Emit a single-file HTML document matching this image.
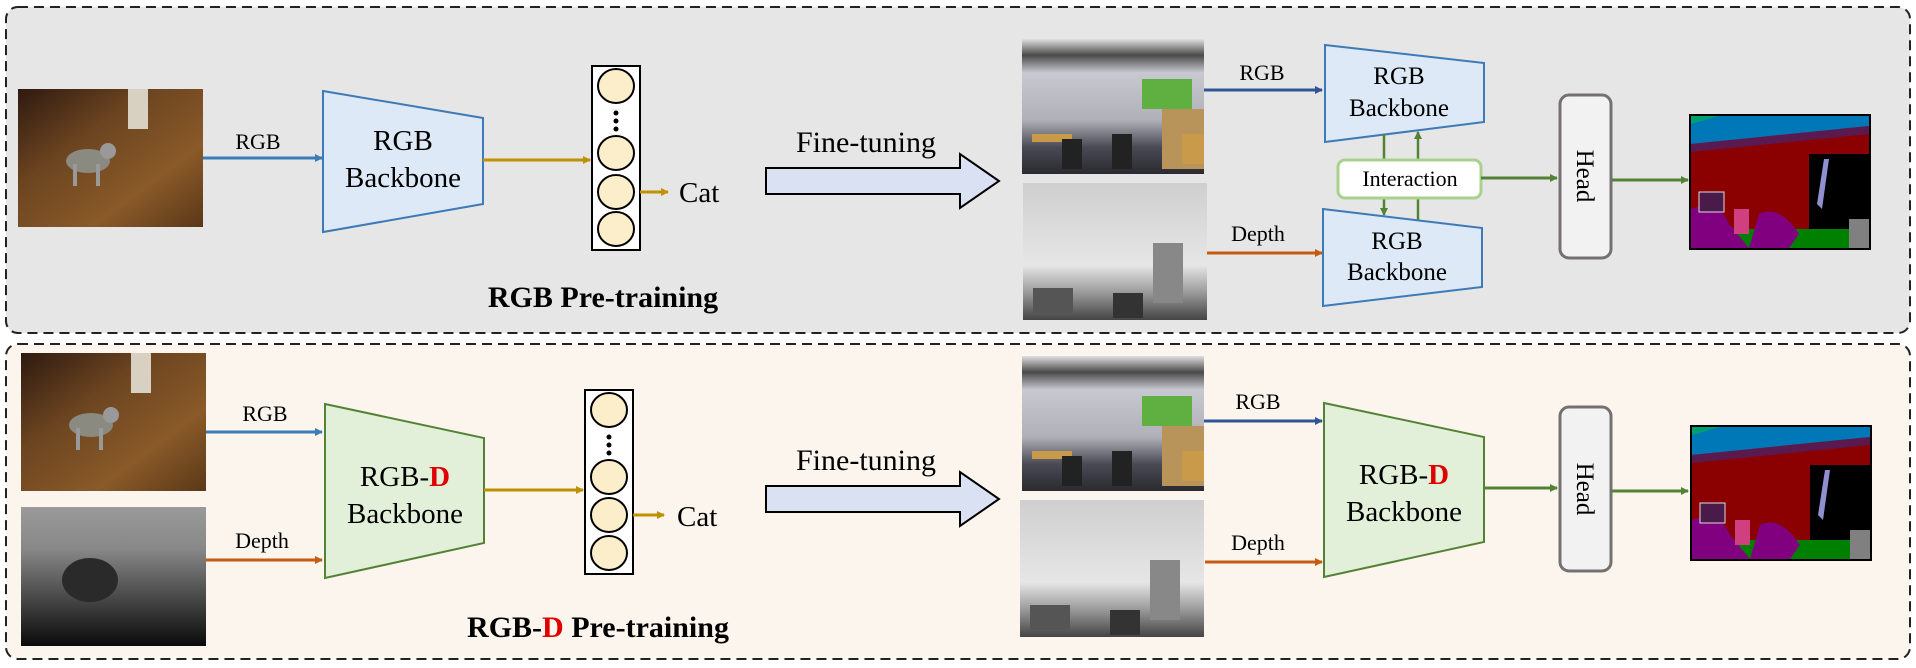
<!DOCTYPE html>
<html><head><meta charset="utf-8"><style>
html,body{margin:0;padding:0;background:#fff}
svg{display:block}
text{font-family:"Liberation Serif",serif;fill:#000}
</style></head><body>
<svg width="1916" height="668" viewBox="0 0 1916 668" xmlns="http://www.w3.org/2000/svg">
<defs>
<marker id="ab" markerWidth="8" markerHeight="8" refX="7" refY="4" orient="auto" markerUnits="userSpaceOnUse"><path d="M0,0 L8,4 L0,8 Z" fill="#3d7ab8"/></marker>
<marker id="adb" markerWidth="8" markerHeight="8" refX="7" refY="4" orient="auto" markerUnits="userSpaceOnUse"><path d="M0,0 L8,4 L0,8 Z" fill="#2f5597"/></marker>
<marker id="ao" markerWidth="8" markerHeight="8" refX="7" refY="4" orient="auto" markerUnits="userSpaceOnUse"><path d="M0,0 L8,4 L0,8 Z" fill="#c55a11"/></marker>
<marker id="ay" markerWidth="8" markerHeight="8" refX="7" refY="4" orient="auto" markerUnits="userSpaceOnUse"><path d="M0,0 L8,4 L0,8 Z" fill="#bf9000"/></marker>
<marker id="ag" markerWidth="8" markerHeight="8" refX="7" refY="4" orient="auto" markerUnits="userSpaceOnUse"><path d="M0,0 L8,4 L0,8 Z" fill="#548235"/></marker>
<linearGradient id="wood" x1="0" y1="0" x2="1" y2="1"><stop offset="0" stop-color="#2e1a10"/><stop offset="0.35" stop-color="#6b4420"/><stop offset="0.7" stop-color="#8a5a28"/><stop offset="1" stop-color="#5a3818"/></linearGradient>
<linearGradient id="dcat" x1="0" y1="0" x2="0" y2="1"><stop offset="0" stop-color="#9a9a9a"/><stop offset="0.3" stop-color="#888"/><stop offset="1" stop-color="#0a0a0a"/></linearGradient>
<linearGradient id="room" x1="0" y1="0" x2="0" y2="1"><stop offset="0" stop-color="#e0e0e0"/><stop offset="0.12" stop-color="#4a4a4a"/><stop offset="0.25" stop-color="#c8c8d0"/><stop offset="0.6" stop-color="#b0b0b8"/><stop offset="0.8" stop-color="#4a4a54"/><stop offset="1" stop-color="#2a2a30"/></linearGradient>
<linearGradient id="depth" x1="0" y1="0" x2="0" y2="1"><stop offset="0" stop-color="#cfcfcf"/><stop offset="0.6" stop-color="#e6e6e6"/><stop offset="0.8" stop-color="#9a9a9a"/><stop offset="1" stop-color="#444"/></linearGradient>
<g id="cat">
 <rect width="185" height="138" fill="url(#wood)"/>
 <rect x="110" y="0" width="20" height="40" fill="#d8d0c0"/>
 <ellipse cx="70" cy="72" rx="22" ry="12" fill="#8a8a80"/>
 <rect x="55" y="75" width="4" height="22" fill="#999"/><rect x="78" y="75" width="4" height="22" fill="#999"/>
 <circle cx="90" cy="62" r="8" fill="#999"/>
</g>
<g id="rgbroom">
 <rect width="182" height="135" fill="url(#room)"/>
 <rect x="120" y="40" width="50" height="30" fill="#5fb040"/>
 <rect x="140" y="70" width="42" height="60" fill="#b8945a"/>
 <rect x="10" y="95" width="40" height="8" fill="#c89a4a"/>
 <rect x="160" y="95" width="22" height="30" fill="#c89a4a"/>
 <rect x="40" y="100" width="20" height="30" fill="#222"/><rect x="90" y="95" width="20" height="35" fill="#222"/>
</g>
<g id="deproom">
 <rect width="184" height="137" fill="url(#depth)"/>
 <rect x="130" y="60" width="30" height="60" fill="#888"/>
 <rect x="10" y="105" width="40" height="25" fill="#555"/>
 <rect x="90" y="110" width="30" height="25" fill="#333"/>
</g>
<g id="seg">
 <rect width="182" height="136" fill="#000"/>
 <rect x="2" y="2" width="178" height="132" fill="#8b0000"/>
 <polygon points="2,2 180,2 180,12 2,30" fill="#0078b8"/>
 <polygon points="2,2 30,2 2,10" fill="#00a070"/>
 <polygon points="2,30 180,12 180,20 2,38" fill="#5a1a50"/>
 <rect x="120" y="40" width="60" height="75" fill="#000"/>
 <polygon points="128,90 135,45 140,45 133,95" fill="#9090d0"/>
 <rect x="2" y="115" width="178" height="19" fill="#008000"/>
 <path d="M2,95 Q30,85 40,110 L60,134 L2,134Z" fill="#800080"/>
 <path d="M70,100 Q90,90 110,120 L100,134 L60,134Z" fill="#800080"/>
 <rect x="45" y="95" width="15" height="25" fill="#d04080"/>
 <rect x="160" y="105" width="20" height="29" fill="#808080"/>
 <rect x="10" y="78" width="25" height="20" fill="#4a1a4a" stroke="#ddd"/>
</g>
</defs>

<rect x="6" y="7" width="1904" height="326" rx="12" fill="#e6e6e6" stroke="#222" stroke-width="2" stroke-dasharray="10,6"/>
<rect x="6" y="344" width="1904" height="315" rx="12" fill="#fcf5ee" stroke="#222" stroke-width="2" stroke-dasharray="10,6"/>

<!-- TOP -->
<use href="#cat" x="18" y="89"/>
<text x="258" y="149" font-size="22" text-anchor="middle">RGB</text>
<line x1="203" y1="158" x2="322" y2="158" stroke="#3d7ab8" stroke-width="3" marker-end="url(#ab)"/>
<polygon points="323,91 483,118 483,204 323,232" fill="#dde9f6" stroke="#3d7ab8" stroke-width="2"/>
<text x="403" y="150" font-size="29" text-anchor="middle">RGB</text>
<text x="403" y="187" font-size="29" text-anchor="middle">Backbone</text>
<line x1="483" y1="160" x2="590" y2="160" stroke="#bf9000" stroke-width="3" marker-end="url(#ay)"/>
<rect x="592" y="66" width="48" height="184" fill="#fff" stroke="#000" stroke-width="2"/>
<g fill="#fdeecb" stroke="#000" stroke-width="2">
<ellipse cx="616" cy="86" rx="18" ry="17"/><ellipse cx="616" cy="153" rx="18" ry="17"/><ellipse cx="616" cy="192" rx="18" ry="17"/><ellipse cx="616" cy="229" rx="18" ry="17"/></g>
<g fill="#000"><circle cx="616" cy="113" r="2.5"/><circle cx="616" cy="121" r="2.5"/><circle cx="616" cy="129" r="2.5"/></g>
<line x1="640" y1="192" x2="668" y2="192" stroke="#bf9000" stroke-width="3" marker-end="url(#ay)"/>
<text x="679" y="202" font-size="29">Cat</text>
<text x="603" y="307" font-size="30" font-weight="bold" text-anchor="middle">RGB Pre-training</text>

<text x="866" y="152" font-size="30" text-anchor="middle">Fine-tuning</text>
<polygon points="766,168 960,168 960,154 999,181 960,208 960,194 766,194" fill="#dae1f3" stroke="#000" stroke-width="2"/>

<use href="#rgbroom" x="1022" y="39"/>
<use href="#deproom" x="1023" y="183"/>
<text x="1262" y="80" font-size="22" text-anchor="middle">RGB</text>
<line x1="1204" y1="90" x2="1322" y2="90" stroke="#2f5597" stroke-width="3" marker-end="url(#adb)"/>
<polygon points="1325,45 1484,63 1484,122 1325,142" fill="#dde9f6" stroke="#3d7ab8" stroke-width="2"/>
<text x="1399" y="84" font-size="25" text-anchor="middle">RGB</text>
<text x="1399" y="116" font-size="25" text-anchor="middle">Backbone</text>
<text x="1258" y="241" font-size="22" text-anchor="middle">Depth</text>
<line x1="1207" y1="253" x2="1322" y2="253" stroke="#c55a11" stroke-width="3" marker-end="url(#ao)"/>
<polygon points="1323,209 1482,228 1482,287 1323,306" fill="#dde9f6" stroke="#3d7ab8" stroke-width="2"/>
<text x="1397" y="249" font-size="25" text-anchor="middle">RGB</text>
<text x="1397" y="280" font-size="25" text-anchor="middle">Backbone</text>
<line x1="1384" y1="134" x2="1384" y2="215" stroke="#548235" stroke-width="2.5" marker-end="url(#ag)"/>
<line x1="1418" y1="220" x2="1418" y2="132" stroke="#548235" stroke-width="2.5" marker-end="url(#ag)"/>
<rect x="1338" y="160" width="143" height="38" rx="7" fill="#fff" stroke="#a9d18e" stroke-width="3"/>
<text x="1410" y="186" font-size="22" text-anchor="middle">Interaction</text>
<line x1="1481" y1="178" x2="1557" y2="178" stroke="#548235" stroke-width="3" marker-end="url(#ag)"/>
<rect x="1560" y="95" width="51" height="163" rx="9" fill="#f2f2f2" stroke="#767171" stroke-width="3"/>
<text transform="translate(1577,176) rotate(90)" font-size="25" text-anchor="middle">Head</text>
<line x1="1612" y1="180" x2="1688" y2="180" stroke="#548235" stroke-width="3" marker-end="url(#ag)"/>
<use href="#seg" x="1689" y="114"/>

<!-- BOTTOM -->
<use href="#cat" x="21" y="353"/>
<rect x="21" y="507" width="185" height="139" fill="url(#dcat)"/>
<ellipse cx="90" cy="580" rx="28" ry="22" fill="#2a2a2a"/>
<text x="265" y="421" font-size="22" text-anchor="middle">RGB</text>
<line x1="206" y1="432" x2="322" y2="432" stroke="#3d7ab8" stroke-width="3" marker-end="url(#ab)"/>
<text x="262" y="548" font-size="22" text-anchor="middle">Depth</text>
<line x1="206" y1="560" x2="322" y2="560" stroke="#c55a11" stroke-width="3" marker-end="url(#ao)"/>
<polygon points="325,404 484,438 484,543 325,578" fill="#e2efd9" stroke="#548235" stroke-width="2"/>
<text x="405" y="486" font-size="29" text-anchor="middle">RGB-<tspan fill="#e00000" font-weight="bold">D</tspan></text>
<text x="405" y="523" font-size="29" text-anchor="middle">Backbone</text>
<line x1="484" y1="490" x2="583" y2="490" stroke="#bf9000" stroke-width="3" marker-end="url(#ay)"/>
<rect x="585" y="390" width="48" height="184" fill="#fff" stroke="#000" stroke-width="2"/>
<g fill="#fdeecb" stroke="#000" stroke-width="2">
<ellipse cx="609" cy="410" rx="18" ry="17"/><ellipse cx="609" cy="477" rx="18" ry="17"/><ellipse cx="609" cy="515" rx="18" ry="17"/><ellipse cx="609" cy="553" rx="18" ry="17"/></g>
<g fill="#000"><circle cx="609" cy="437" r="2.5"/><circle cx="609" cy="445" r="2.5"/><circle cx="609" cy="453" r="2.5"/></g>
<line x1="633" y1="515" x2="664" y2="515" stroke="#bf9000" stroke-width="3" marker-end="url(#ay)"/>
<text x="677" y="526" font-size="29">Cat</text>
<text x="598" y="637" font-size="30" font-weight="bold" text-anchor="middle">RGB-<tspan fill="#e00000">D</tspan> Pre-training</text>

<text x="866" y="470" font-size="30" text-anchor="middle">Fine-tuning</text>
<polygon points="766,486 960,486 960,472 999,499 960,526 960,512 766,512" fill="#dae1f3" stroke="#000" stroke-width="2"/>

<use href="#rgbroom" x="1022" y="356"/>
<use href="#deproom" x="1020" y="500"/>
<text x="1258" y="409" font-size="22" text-anchor="middle">RGB</text>
<line x1="1204" y1="421" x2="1322" y2="421" stroke="#2f5597" stroke-width="3" marker-end="url(#adb)"/>
<text x="1258" y="550" font-size="22" text-anchor="middle">Depth</text>
<line x1="1205" y1="562" x2="1322" y2="562" stroke="#c55a11" stroke-width="3" marker-end="url(#ao)"/>
<polygon points="1324,403 1484,437 1484,542 1324,577" fill="#e2efd9" stroke="#548235" stroke-width="2"/>
<text x="1404" y="484" font-size="29" text-anchor="middle">RGB-<tspan fill="#e00000" font-weight="bold">D</tspan></text>
<text x="1404" y="521" font-size="29" text-anchor="middle">Backbone</text>
<line x1="1484" y1="488" x2="1557" y2="488" stroke="#548235" stroke-width="3" marker-end="url(#ag)"/>
<rect x="1560" y="407" width="51" height="164" rx="9" fill="#f2f2f2" stroke="#767171" stroke-width="3"/>
<text transform="translate(1577,489) rotate(90)" font-size="25" text-anchor="middle">Head</text>
<line x1="1612" y1="491" x2="1688" y2="491" stroke="#548235" stroke-width="3" marker-end="url(#ag)"/>
<use href="#seg" x="1690" y="425"/>
</svg>
</body></html>
